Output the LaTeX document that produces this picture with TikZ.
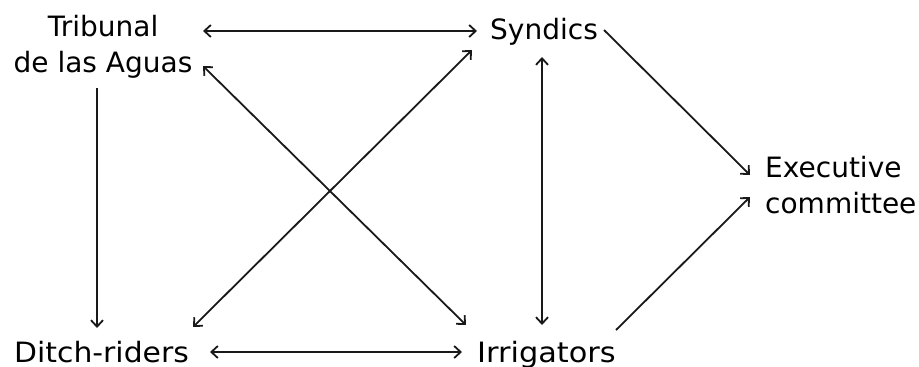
\documentclass[tikz,border=0pt]{standalone}
\usepackage{fontspec}
\setmainfont{DejaVu Sans}
\usetikzlibrary{arrows.meta,calc}
\begin{document}
\begin{tikzpicture}[x=1pt,y=-1pt,
  lbl/.style={inner sep=0pt,font=\fontsize{28}{36}\selectfont},
  conn/.style={line width=1.8pt,draw=black!90,>={Straight Barb[length=6.5pt,width=12pt]}}]
\useasboundingbox[fill=white] (0,0) rectangle (919,367);
\node[lbl,anchor=base] (trib) at (103,36) {\begin{tabular}[t]{@{}c@{}}Tribunal\\de las Aguas\end{tabular}};
\node[lbl,anchor=base west] (syn) at (490,39) {Syndics};
\node[lbl,anchor=base west] (exec) at (765,177) {\begin{tabular}[t]{@{}l@{}}Executive\\committee\end{tabular}};
\node[lbl,anchor=base west] (ditch) at (14,362) {\addfontfeature{FakeStretch=1.065}Ditch-riders};
\node[lbl,anchor=base west] (irr) at (477,362) {\addfontfeature{FakeStretch=1.085}Irrigators};
\draw[conn,<->] ($(trib.base)+(100,-5)$) -- ($(syn.base west)+(-13,-8)$);
\draw[conn,<->] ($(trib.base)+(100,30)$) -- ($(irr.base west)+(-11,-37)$);
\draw[conn,->] ($(trib.base)+(-6,52)$) -- ($(ditch.base west)+(83,-34)$);
\draw[conn,<->] ($(ditch.base west)+(179,-35)$) -- ($(syn.base west)+(-18,11)$);
\draw[conn,<->] ($(ditch.base west)+(196,-10)$) -- ($(irr.base west)+(-15,-10)$);
\draw[conn,<->] ($(syn.base west)+(52,18)$) -- ($(irr.base west)+(65,-37)$);
\draw[conn,->] ($(syn.base west)+(114,-9)$) -- ($(exec.base west)+(-15,-2)$);
\draw[conn,->] ($(irr.base west)+(139,-32)$) -- ($(exec.base west)+(-15,20)$);
\end{tikzpicture}
\end{document}
